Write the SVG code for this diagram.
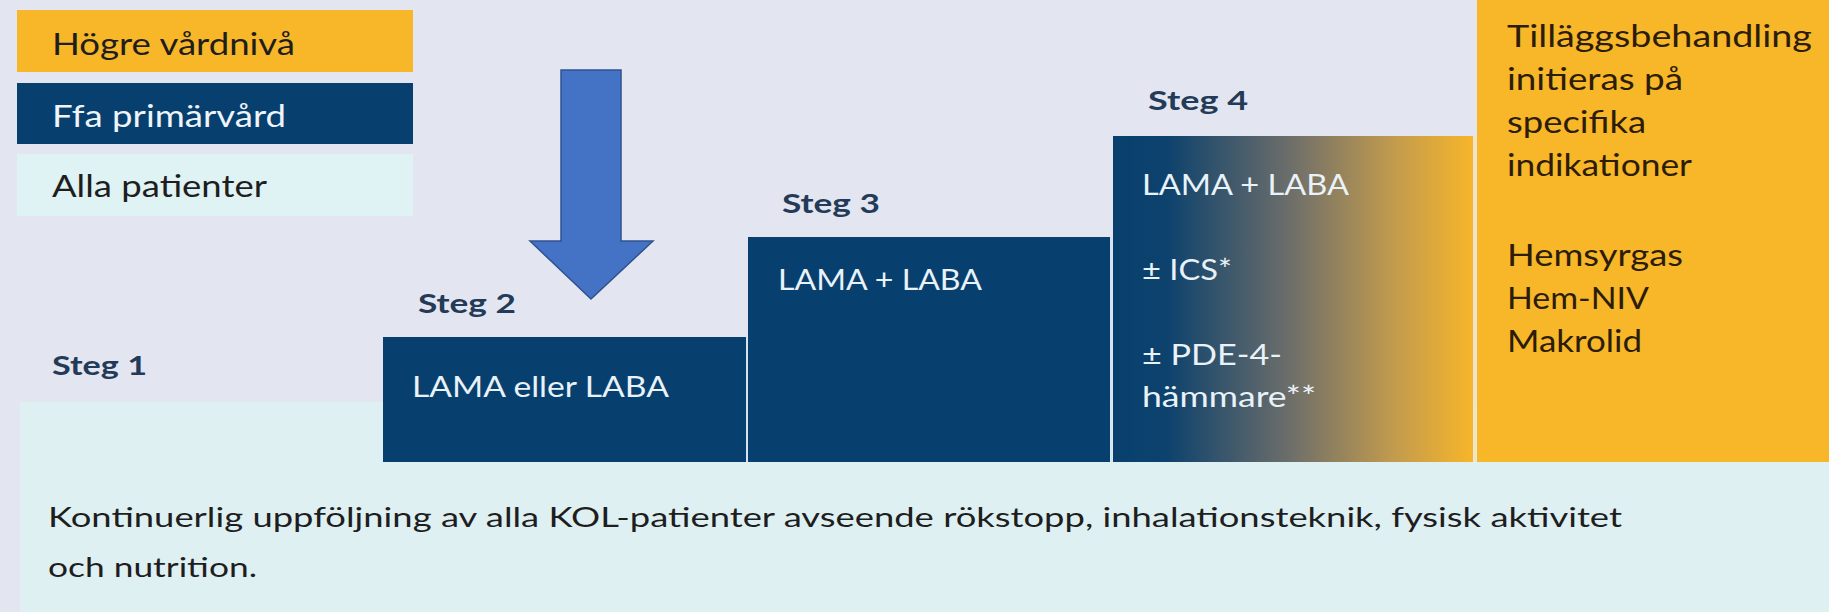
<svg xmlns="http://www.w3.org/2000/svg" width="1829" height="612" viewBox="0 0 1829 612">
<defs>
<linearGradient id="g4" x1="0" y1="0" x2="1" y2="0">
<stop offset="0" stop-color="#07406e"/>
<stop offset="0.15" stop-color="#0d426d"/>
<stop offset="0.5" stop-color="#6f6f6a"/>
<stop offset="0.78" stop-color="#c29b4e"/>
<stop offset="1" stop-color="#f7b52a"/>
</linearGradient>
<style>
text{font-family:Lato,"Liberation Sans",sans-serif}
.leg{font-size:30px;fill:#1e1e1e}
.legw{font-size:30px;fill:#eef4fa}
.steg{font-size:27px;font-weight:700;fill:#233b58}
.bx{font-size:28px;fill:#e9f2f8}
.or{font-size:30px;fill:#2b1d08}
.bt{font-size:27px;fill:#1e1e1e}
.navy{fill:#07406e}
.orange{fill:#f8b629}
.light{fill:#dff0f3}
.sep{stroke:#d3e4ee;stroke-width:2}
</style>
</defs>
<rect width="1829" height="612" fill="#e3e6f0"/>
<rect x="20" y="402" width="1809" height="210" class="light"/>

<g id="legend-hogre">
<rect x="17" y="10" width="396" height="62" class="orange"/>
<text x="52" y="55" class="leg" textLength="243" lengthAdjust="spacingAndGlyphs">Högre vårdnivå</text>
</g>
<g id="legend-ffa">
<rect x="17" y="83" width="396" height="61" class="navy"/>
<text x="52" y="127" class="legw" textLength="234" lengthAdjust="spacingAndGlyphs">Ffa primärvård</text>
</g>
<g id="legend-alla">
<rect x="17" y="154" width="396" height="62" fill="#dff2f4"/>
<text x="52" y="197" class="leg" textLength="215" lengthAdjust="spacingAndGlyphs">Alla patienter</text>
</g>

<g id="steg1">
<text x="52" y="375" class="steg" textLength="95" lengthAdjust="spacingAndGlyphs">Steg 1</text>
</g>
<g id="steg2">
<text x="418" y="313" class="steg" textLength="98" lengthAdjust="spacingAndGlyphs">Steg 2</text>
<rect x="383" y="337" width="363" height="125" class="navy"/>
<text x="412" y="397" class="bx" textLength="257" lengthAdjust="spacingAndGlyphs">LAMA eller LABA</text>
</g>
<g id="steg3">
<text x="782" y="213" class="steg" textLength="98" lengthAdjust="spacingAndGlyphs">Steg 3</text>
<rect x="748" y="237" width="362" height="225" class="navy"/>
<text x="778" y="290" class="bx" textLength="204" lengthAdjust="spacingAndGlyphs">LAMA + LABA</text>
</g>
<g id="steg4">
<text x="1148" y="110" class="steg" textLength="100" lengthAdjust="spacingAndGlyphs">Steg 4</text>
<rect x="1113" y="136" width="360" height="326" fill="url(#g4)"/>
<text x="1142" y="195" class="bx" textLength="207" lengthAdjust="spacingAndGlyphs">LAMA + LABA</text>
<text x="1142" y="280" class="bx" textLength="90" lengthAdjust="spacingAndGlyphs">± ICS*</text>
<text x="1142" y="365" class="bx" textLength="140" lengthAdjust="spacingAndGlyphs">± PDE-4-</text>
<text x="1142" y="407" class="bx" textLength="174" lengthAdjust="spacingAndGlyphs">hämmare**</text>
</g>
<g id="tillagg">
<rect x="1477" y="0" width="352" height="462" class="orange"/>
<line x1="1475" y1="136" x2="1475" y2="462" stroke="#f1e3c4" stroke-width="3"/>
<text x="1507" y="47" class="or" textLength="305" lengthAdjust="spacingAndGlyphs">Tilläggsbehandling</text>
<text x="1507" y="90" class="or" textLength="176" lengthAdjust="spacingAndGlyphs">initieras på</text>
<text x="1507" y="133" class="or" textLength="139" lengthAdjust="spacingAndGlyphs">specifika</text>
<text x="1507" y="176" class="or" textLength="185" lengthAdjust="spacingAndGlyphs">indikationer</text>
<text x="1507" y="266" class="or" textLength="176" lengthAdjust="spacingAndGlyphs">Hemsyrgas</text>
<text x="1507" y="309" class="or" textLength="142" lengthAdjust="spacingAndGlyphs">Hem-NIV</text>
<text x="1507" y="352" class="or" textLength="135" lengthAdjust="spacingAndGlyphs">Makrolid</text>
</g>
<g id="separators">
<line x1="747" y1="337" x2="747" y2="462" class="sep"/>
<line x1="1111.5" y1="237" x2="1111.5" y2="462" class="sep"/>
</g>
<g id="footer">
<text x="48" y="527" class="bt" textLength="1574" lengthAdjust="spacingAndGlyphs">Kontinuerlig uppföljning av alla KOL-patienter avseende rökstopp, inhalationsteknik, fysisk aktivitet</text>
<text x="48" y="577" class="bt" textLength="209" lengthAdjust="spacingAndGlyphs">och nutrition.</text>
</g>
<g id="connectors">
<polygon points="561,70 621,70 621,241 653,241 591,299 530,241 561,241" fill="#4472c4" stroke="#2f528f" stroke-width="1.5"/>
</g>
</svg>
